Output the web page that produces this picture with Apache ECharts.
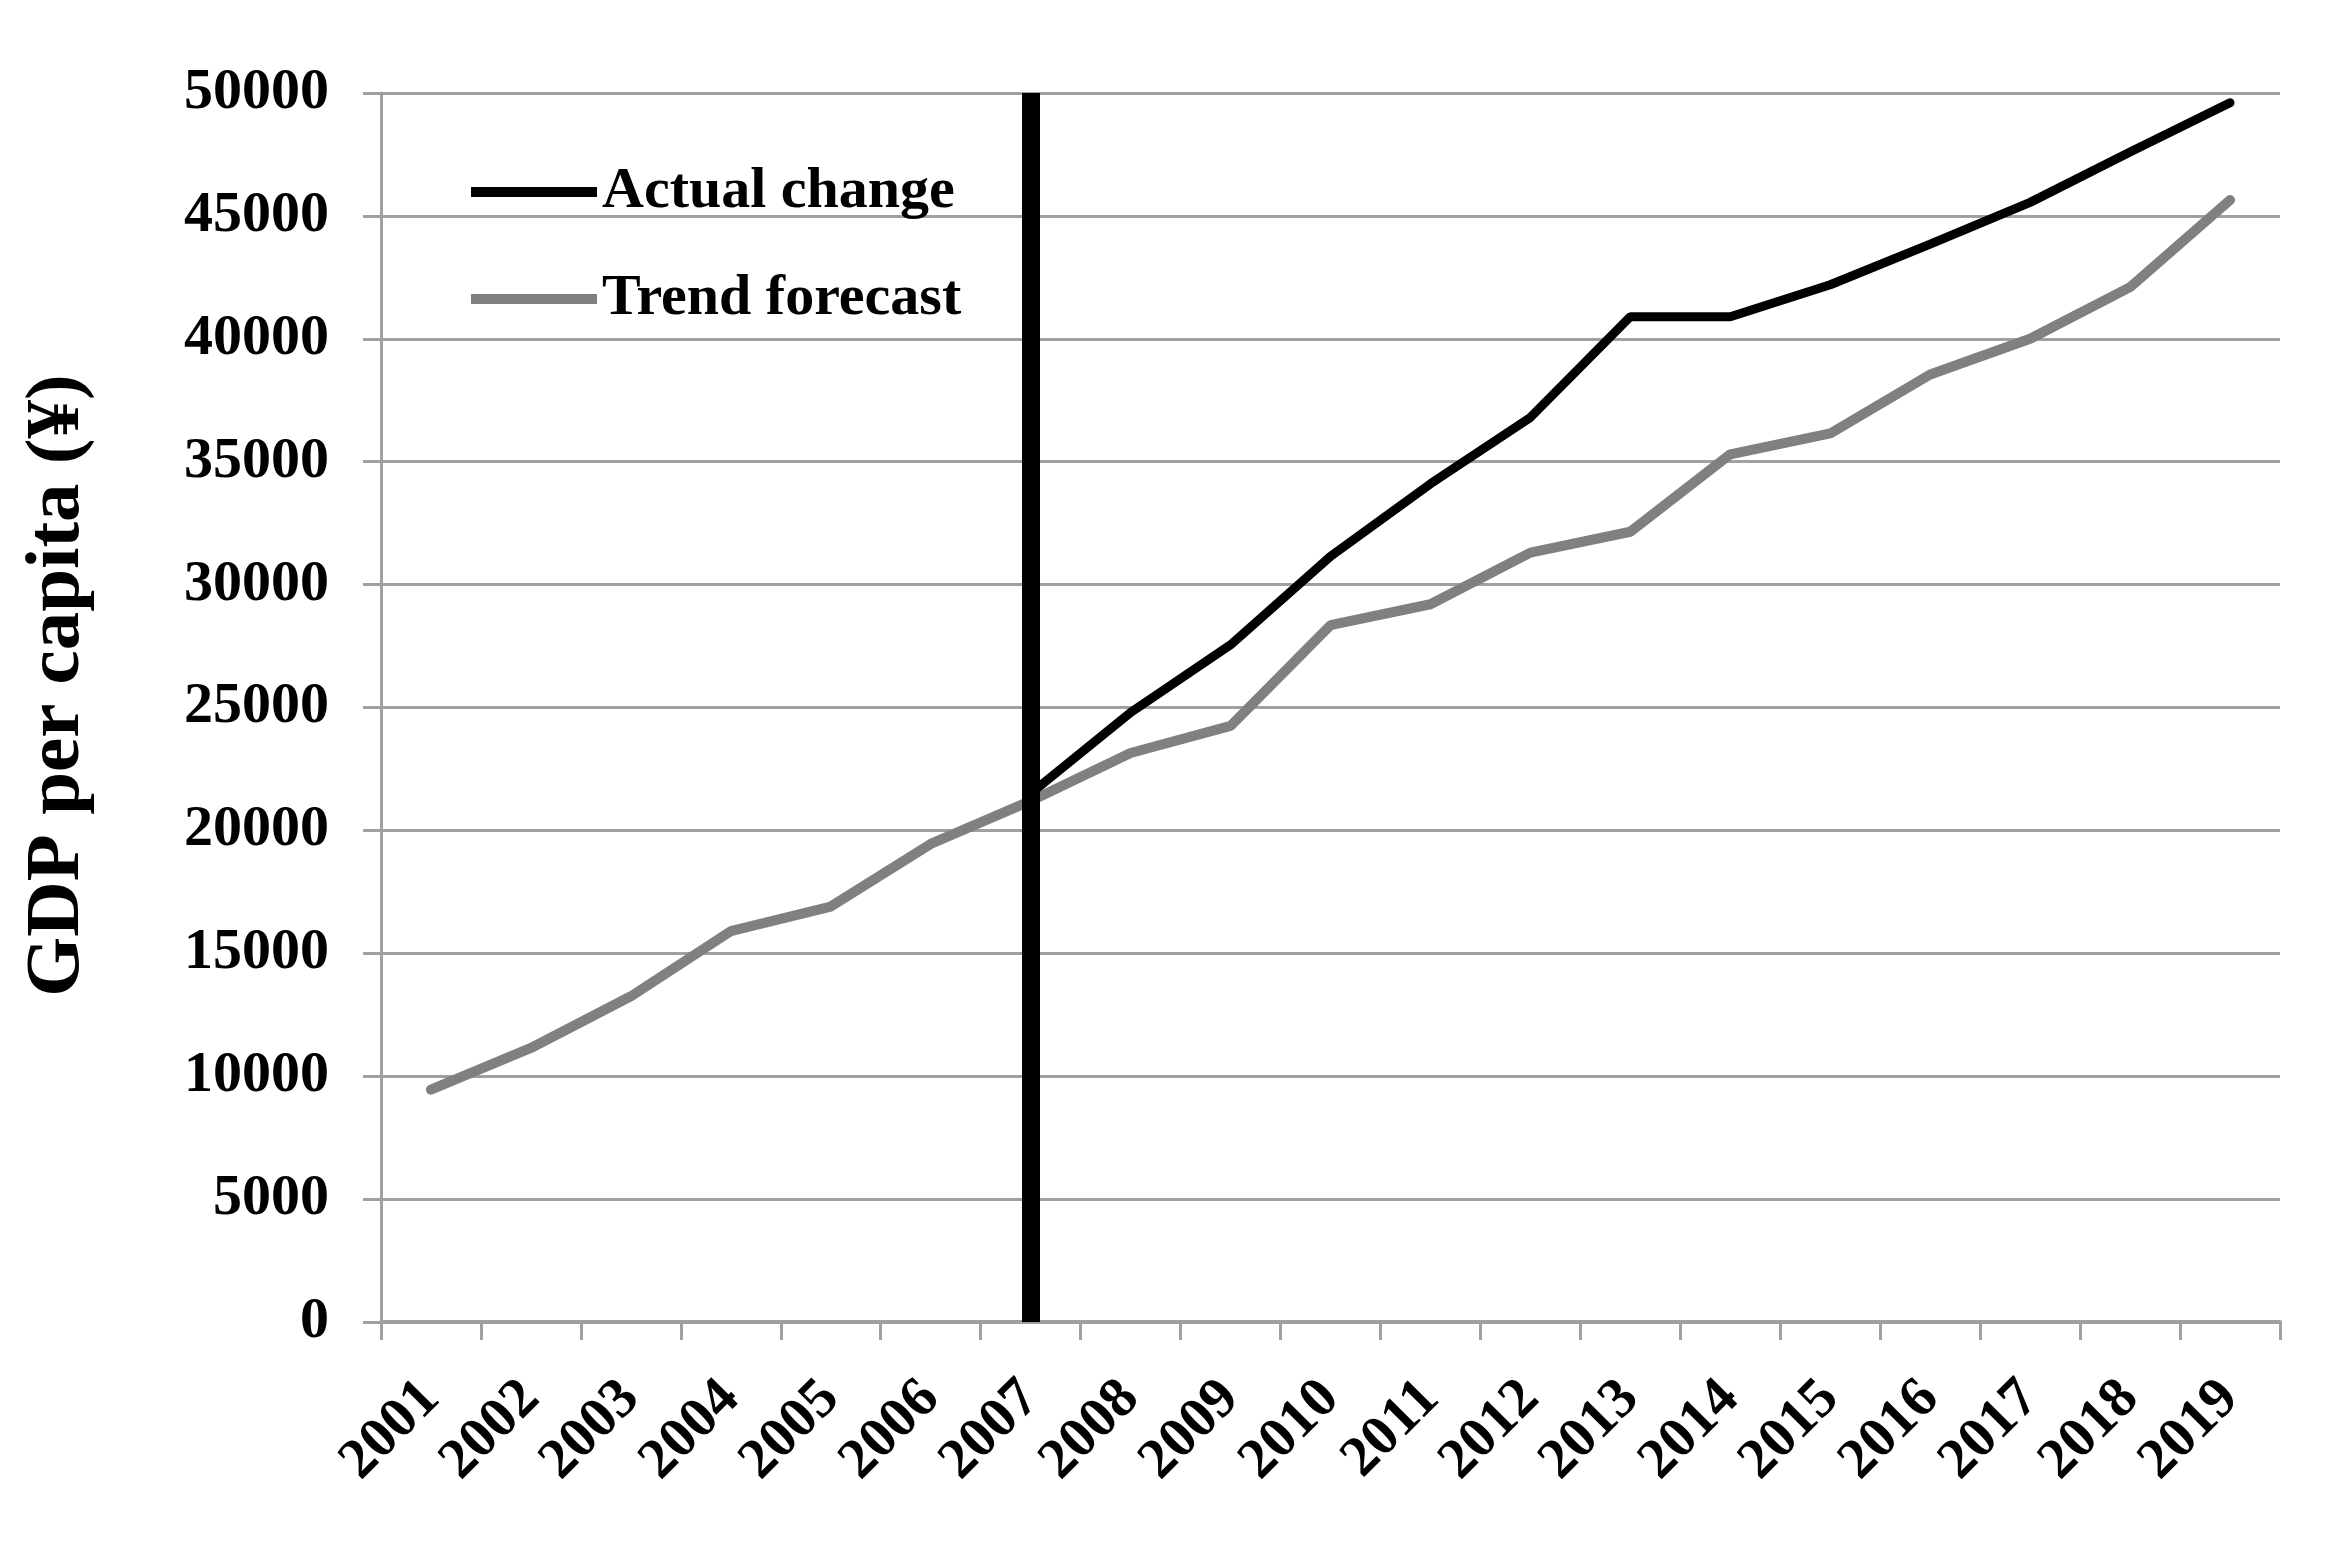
<!DOCTYPE html>
<html>
<head>
<meta charset="utf-8">
<script src="https://cdn.jsdelivr.net/npm/echarts@6/dist/echarts.min.js"></script>
<style>
  html, body { margin: 0; padding: 0; background: #ffffff; }
  #chart { width: 2336px; height: 1555px; }
</style>
</head>
<body>
<div id="chart"></div>
<script>
const years = ['2001','2002','2003','2004','2005','2006','2007','2008','2009','2010',
               '2011','2012','2013','2014','2015','2016','2017','2018','2019'];
const actualChange = [null, null, null, null, null, null, 21500, 24800, 27550, 31150,
                      34100, 36800, 40900, 40900, 42200, 43850, 45550, 47600, 49600];
const trendForecast = [9450, 11150, 13250, 15900, 16900, 19450, 21200, 23150, 24250, 28350,
                       29200, 31300, 32150, 35300, 36150, 38550, 40000, 42100, 45650];
const dividerYear = '2007';
const yMin = 0, yMax = 50000, yStep = 5000;

const FONT = "'Liberation Serif', 'Times New Roman', serif";
const GRID_COLOR = '#a0a0a0';

const chart = echarts.init(document.getElementById('chart'), null, { renderer: 'canvas' });
chart.setOption({
  backgroundColor: '#ffffff',
  animation: false,
  grid: { left: 381, right: 56, top: 93, bottom: 233, containLabel: false },
  legend: {
    data: ['Actual change', 'Trend forecast'],
    orient: 'vertical',
    left: 471,
    top: 163,
    padding: 0,
    itemWidth: 126,
    itemHeight: 10,
    itemGap: 49,
    icon: 'rect',
    textStyle: { fontFamily: FONT, fontWeight: 'bold', fontSize: 58, color: '#000', lineHeight: 58 }
  },
  xAxis: {
    type: 'category',
    data: years,
    boundaryGap: true,
    axisLine: { show: true, lineStyle: { color: GRID_COLOR, width: 4 } },
    axisTick: { show: true, length: 18, interval: 0, lineStyle: { color: GRID_COLOR, width: 3 } },
    axisLabel: {
      interval: 0, rotate: 45, margin: 68,
      fontFamily: FONT, fontWeight: 'bold', fontSize: 57, color: '#000'
    },
    splitLine: { show: false }
  },
  yAxis: {
    type: 'value',
    min: yMin, max: yMax, interval: yStep,
    name: 'GDP per capita (¥)',
    nameLocation: 'middle',
    nameRotate: 90,
    nameGap: 284,
    nameTextStyle: { fontFamily: FONT, fontWeight: 'bold', fontSize: 77, color: '#000', padding: [0, 0, 0, 44] },
    axisLine: { show: true, lineStyle: { color: GRID_COLOR, width: 3 } },
    axisTick: { show: true, length: 18, lineStyle: { color: GRID_COLOR, width: 3 } },
    axisLabel: {
      margin: 52, fontFamily: FONT, fontWeight: 'bold', fontSize: 58, color: '#000',
      formatter: function (v) { return String(v); }
    },
    splitLine: { show: true, lineStyle: { color: GRID_COLOR, width: 3 } }
  },
  series: [
    {
      name: 'Trend forecast',
      type: 'line',
      data: trendForecast,
      symbol: 'none',
      showSymbol: false,
      color: '#808080',
      lineStyle: { color: '#808080', width: 10, cap: 'round' },
      z: 2
    },
    {
      name: 'Actual change',
      type: 'line',
      data: actualChange,
      symbol: 'none',
      showSymbol: false,
      connectNulls: false,
      color: '#000000',
      lineStyle: { color: '#000000', width: 9, cap: 'round' },
      z: 3,
      markLine: {
        silent: true,
        symbol: ['none', 'none'],
        label: { show: false },
        lineStyle: { color: '#000000', width: 18, type: 'solid' },
        data: [{ xAxis: dividerYear }]
      }
    }
  ]
});
</script>
</body>
</html>
